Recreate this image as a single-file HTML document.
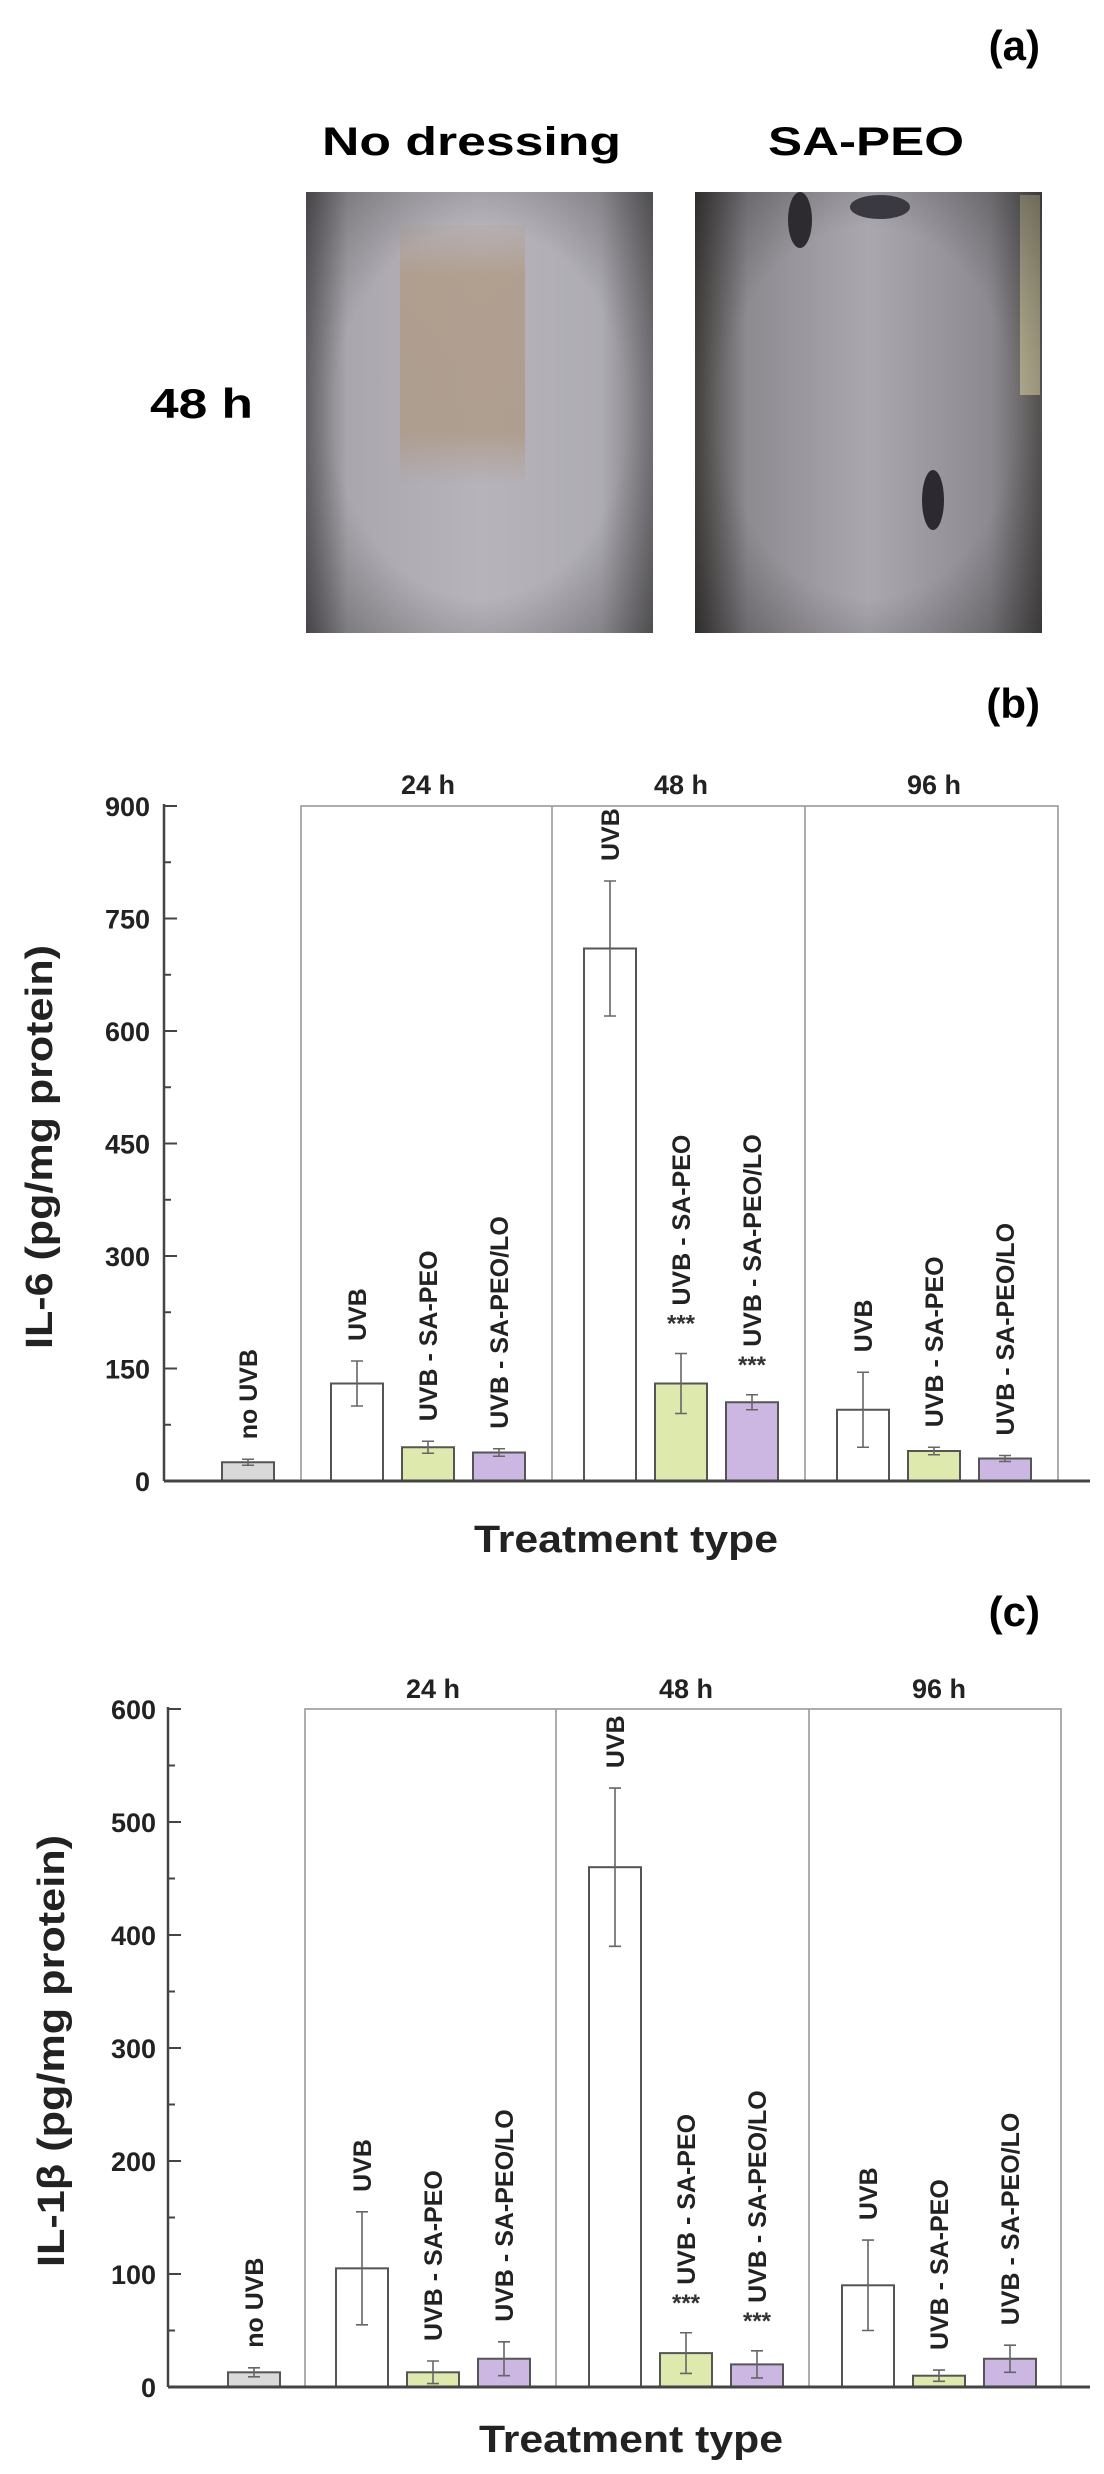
<!DOCTYPE html>
<html><head><meta charset="utf-8"><style>
html,body{margin:0;padding:0;background:#fff;}
svg{display:block;font-family:"Liberation Sans",Arial,sans-serif;font-weight:bold;}
</style></head><body>
<svg id="fig" width="1104" height="2474" viewBox="0 0 1104 2474" xmlns="http://www.w3.org/2000/svg">
<defs>
<linearGradient id="lg1" x1="0" x2="1" y1="0" y2="0">
<stop offset="0" stop-color="#6e6a70"/><stop offset="0.12" stop-color="#a9a7ad"/><stop offset="0.5" stop-color="#b7b3bb"/><stop offset="0.85" stop-color="#aeacb3"/><stop offset="1" stop-color="#7a787c"/></linearGradient>
<linearGradient id="band" x1="0" x2="0" y1="0" y2="1">
<stop offset="0" stop-color="#b2a191" stop-opacity="0.2"/><stop offset="0.2" stop-color="#b09c88" stop-opacity="0.85"/><stop offset="0.8" stop-color="#ad9a86" stop-opacity="0.8"/><stop offset="1" stop-color="#b09c88" stop-opacity="0"/></linearGradient>
<linearGradient id="lg2" x1="0" x2="1" y1="0" y2="0">
<stop offset="0" stop-color="#4a4744"/><stop offset="0.15" stop-color="#8d8a90"/><stop offset="0.5" stop-color="#aaa7af"/><stop offset="0.85" stop-color="#8c8a90"/><stop offset="1" stop-color="#5a5856"/></linearGradient>
<radialGradient id="vig" cx="0.5" cy="0.5" r="0.7"><stop offset="0.6" stop-color="#000" stop-opacity="0"/><stop offset="1" stop-color="#000" stop-opacity="0.35"/></radialGradient>
</defs>

<!-- Panel (a) -->
<text x="1040" y="60" font-size="42" text-anchor="end">(a)</text>
<text x="322" y="155" font-size="40" textLength="299" lengthAdjust="spacingAndGlyphs">No dressing</text>
<text x="768" y="155" font-size="40" textLength="196" lengthAdjust="spacingAndGlyphs">SA-PEO</text>
<text x="150" y="418" font-size="42" textLength="103" lengthAdjust="spacingAndGlyphs">48 h</text>
<g>
<rect x="306" y="192" width="347" height="441" fill="url(#lg1)"/>
<rect x="400" y="225" width="125" height="260" fill="url(#band)"/>
<rect x="306" y="192" width="347" height="441" fill="url(#vig)"/>
</g>
<g>
<rect x="695" y="192" width="347" height="441" fill="url(#lg2)"/>
<rect x="1020" y="195" width="20" height="200" fill="#c9c29a" opacity="0.7"/>
<rect x="695" y="192" width="347" height="441" fill="url(#vig)"/>
<ellipse cx="800" cy="220" rx="12" ry="28" fill="#2d2a30"/>
<ellipse cx="880" cy="207" rx="30" ry="12" fill="#3a3840"/>
<ellipse cx="933" cy="500" rx="11" ry="30" fill="#2c2a30"/>
</g>

<text x="1040" y="718" font-size="42" text-anchor="end">(b)</text>
<text x="1040" y="1626" font-size="42" text-anchor="end">(c)</text>
<g id="chartB"></g>
<g id="chartC"></g>
</svg>
<script>
// Chart (b) IL-6 data
const catsB = ["no UVB","UVB","UVB - SA-PEO","UVB - SA-PEO/LO","UVB","UVB - SA-PEO","UVB - SA-PEO/LO","UVB","UVB - SA-PEO","UVB - SA-PEO/LO"];
const valsB = [25,130,45,38,710,130,105,95,40,30];
const errsB = [4,30,8,5,90,40,10,50,5,4];
const starsB = [0,0,0,0,0,1,1,0,0,0];
const ticksB = [0,150,300,450,600,750,900];
// Chart (c) IL-1β data
const catsC = ["no UVB","UVB","UVB - SA-PEO","UVB - SA-PEO/LO","UVB","UVB - SA-PEO","UVB - SA-PEO/LO","UVB","UVB - SA-PEO","UVB - SA-PEO/LO"];
const valsC = [13,105,13,25,460,30,20,90,10,25];
const errsC = [4,50,10,15,70,18,12,40,5,12];
const starsC = [0,0,0,0,0,1,1,0,0,0];
const ticksC = [0,100,200,300,400,500,600];
const groupsLabels = ["24 h","48 h","96 h"];
const fills = ["#d9d9d9","#ffffff","#dde9ad","#ccb7e2","#ffffff","#dde9ad","#ccb7e2","#ffffff","#dde9ad","#ccb7e2"];

const NS="http://www.w3.org/2000/svg";
function mk(parent,tag,attrs,text){const e=document.createElementNS(NS,tag);for(const k in attrs)e.setAttribute(k,attrs[k]);if(text!==undefined)e.textContent=text;parent.appendChild(e);return e;}

function draw(gid,cfg,cats,vals,errs,stars,ticks,ytitle){
  const g=document.getElementById(gid);
  const max=ticks[ticks.length-1];
  const y=v=>cfg.y0+(v/max)*(cfg.yt-cfg.y0);
  const x=i=>i===0?cfg.x0:cfg.gx+Math.floor((i-1)/3)*253+((i-1)%3)*71;
  const box=mk(g,'rect',{x:cfg.bl,y:cfg.yt,width:cfg.br-cfg.bl,height:cfg.y0-cfg.yt,fill:'none',stroke:'#999','stroke-width':1.6});
  
  
  for(let k=1;k<3;k++){const d=mk(g,'line',{x1:cfg.bl+253*k-2,x2:cfg.bl+253*k-2,y1:cfg.yt,y2:cfg.y0,stroke:'#999','stroke-width':1.6});
    
    }
  groupsLabels.forEach((t,k)=>{const e=mk(g,'text',{x:cfg.gx+71+253*k,y:cfg.hy,'font-size':27,'text-anchor':'middle',fill:'#222'},t);
    
    });
  ticks.forEach((t,k)=>{
    const l=mk(g,'line',{x1:cfg.ax,x2:cfg.ax+13,y1:y(t),y2:y(t),stroke:'#444','stroke-width':2});
    
    
    const tl=mk(g,'text',{x:cfg.tx,y:y(t)+10,'font-size':27,'text-anchor':'end',fill:'#222'},t);
    
    
    if(k<ticks.length-1){const m=(t+ticks[k+1])/2;const ml=mk(g,'line',{x1:cfg.ax,x2:cfg.ax+7,y1:y(m),y2:y(m),stroke:'#444','stroke-width':2});
      
      }
  });
  const ya=mk(g,'line',{x1:cfg.ax,x2:cfg.ax,y1:cfg.yt-2,y2:cfg.y0,stroke:'#444','stroke-width':2.5});
  
  
  cats.forEach((c,i)=>{
    const cx=x(i),w=52,top=y(vals[i]);
    const b=mk(g,'rect',{x:cx-w/2,y:top,width:w,height:cfg.y0-top,fill:fills[i],stroke:'#555','stroke-width':2});
    
    
    const eT=y(vals[i]+errs[i]),eB=y(Math.max(0,vals[i]-errs[i]));
    const eg=mk(g,'path',{d:`M${cx},${eT}V${eB}M${cx-6},${eT}H${cx+6}M${cx-6},${eB}H${cx+6}`,stroke:'#666','stroke-width':1.6,fill:'none'});
    
    
    let lb=eT-20;
    if(stars[i]){const s=mk(g,'text',{x:cx,y:eT-22,'font-size':24,'text-anchor':'middle',fill:'#333'},'***');
      
      
      lb=eT-48;}
    const t=mk(g,'text',{x:0,y:0,'font-size':25,fill:'#222',transform:`translate(${cx+9},${lb}) rotate(-90)`},c);
    
    
  });
  const xa=mk(g,'line',{x1:cfg.ax,x2:1090,y1:cfg.y0,y2:cfg.y0,stroke:'#444','stroke-width':3});
  
  
  const xt=mk(g,'text',{x:474+cfg.dx,y:cfg.xty,'font-size':38,textLength:304,lengthAdjust:'spacingAndGlyphs',fill:'#222'},'Treatment type');
  
  
  const yt=mk(g,'text',{x:0,y:0,'font-size':38,'text-anchor':'middle',textLength:cfg.ytl,lengthAdjust:'spacingAndGlyphs',fill:'#222',transform:`translate(${cfg.ytx},${cfg.yty}) rotate(-90)`},ytitle);
  
  
}
draw('chartB',{y0:1481,yt:806,ax:164,tx:150,bl:301,br:1058,x0:248,gx:357,hy:794,xty:1552,dx:0,ytx:52,yty:1147,ytl:404},catsB,valsB,errsB,starsB,ticksB,'IL-6 (pg/mg protein)');
draw('chartC',{y0:2387,yt:1709,ax:168,tx:156,bl:305,br:1061,x0:254,gx:362,hy:1698,xty:2452,dx:5,ytx:64,yty:2051,ytl:432},catsC,valsC,errsC,starsC,ticksC,'IL-1β (pg/mg protein)');
</script>
</body></html>
